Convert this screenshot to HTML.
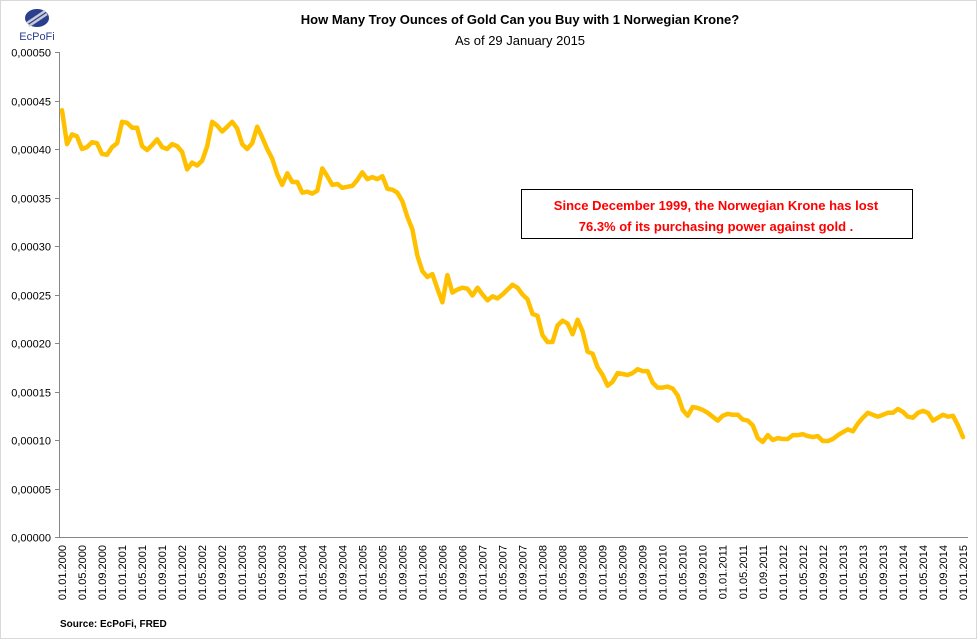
<!DOCTYPE html>
<html><head><meta charset="utf-8"><style>
body{margin:0;background:#fff;}
svg{display:block;font-family:"Liberation Sans",sans-serif;}
</style></head><body>
<svg id="chart" width="977" height="639">
<rect x="0.5" y="0.5" width="976" height="638" fill="#fff" stroke="#d9d9d9"/>
<g>
<ellipse cx="37" cy="18" rx="12" ry="9" fill="#2b3f8f"/>
<path d="M27 23 L45 11 M29 26 L47 14" stroke="#c7ccd6" stroke-width="2.5"/>
<text x="37" y="40" font-size="11" fill="#2b3f8f" text-anchor="middle">EcPoFi</text>
</g>
<text x="520" y="24" font-size="13" font-weight="bold" text-anchor="middle" fill="#000">How Many Troy Ounces of Gold Can you Buy with 1 Norwegian Krone?</text>
<text x="520" y="45" font-size="13" text-anchor="middle" fill="#000">As of 29 January 2015</text>
<g id="yaxis"></g>
<g id="xaxis"></g>
<g id="series"></g>
<g>
<rect x="521.5" y="189.5" width="391" height="49" fill="#fff" stroke="#000"/>
<text x="716" y="210" font-size="13" font-weight="bold" fill="#ff0000" text-anchor="middle">Since December 1999, the Norwegian Krone has lost</text>
<text x="716" y="231" font-size="13" font-weight="bold" fill="#ff0000" text-anchor="middle">76.3% of its purchasing power against gold .</text>
</g>
<text x="60" y="627" font-size="10" font-weight="bold" fill="#000">Source: EcPoFi,  FRED</text>
</svg>
<script>
const yTicks=[0,0.00005,0.0001,0.00015,0.0002,0.00025,0.0003,0.00035,0.0004,0.00045,0.0005];
const yTickLabels=["0,00000","0,00005","0,00010","0,00015","0,00020","0,00025","0,00030","0,00035","0,00040","0,00045","0,00050"];
const startYear=2000;
const monthsCount=181;
const values=[
44,40.5,41.5,41.3,40,40.2,40.7,40.6,39.5,39.4,40.2,40.6,
42.8,42.7,42.2,42.2,40.3,39.9,40.4,41,40.2,40,40.5,40.3,
39.7,37.9,38.6,38.3,38.8,40.3,42.8,42.4,41.8,42.3,42.8,42.1,
40.5,40,40.6,42.3,41.2,40,39,37.4,36.3,37.5,36.6,36.6,
35.5,35.6,35.4,35.7,38,37.2,36.3,36.4,36,36.1,36.2,36.8,
37.6,36.9,37.1,36.9,37.2,35.9,35.8,35.5,34.6,33,31.7,29,
27.4,26.8,27.1,25.6,24.2,27,25.2,25.5,25.7,25.6,24.9,25.7,
25,24.4,24.8,24.6,25,25.5,26,25.7,25,24.5,23,22.8,
20.8,20.1,20.1,21.8,22.3,22,20.9,22.4,21.2,19.1,18.9,17.5,
16.7,15.6,16,16.9,16.8,16.7,16.9,17.3,17.1,17.1,15.9,15.4,
15.4,15.5,15.3,14.6,13.1,12.5,13.4,13.3,13.1,12.8,12.4,12,
12.5,12.7,12.6,12.6,12.1,12,11.5,10.2,9.8,10.5,10,10.2,
10.1,10.1,10.5,10.5,10.6,10.4,10.3,10.4,9.9,9.9,10.1,10.5,
10.8,11.1,10.9,11.7,12.3,12.8,12.6,12.4,12.6,12.8,12.8,13.2,
12.9,12.4,12.3,12.8,13,12.8,12,12.3,12.6,12.4,12.5,11.5,
10.3];
const NS="http://www.w3.org/2000/svg";
const X0=62,X1=963,Y0=537,Y1=52;
function xScale(i){return X0+(X1-X0)*i/(monthsCount-1);}
function yScale(v){return Y0-(Y0-Y1)*v/0.0005;}
function mk(t,a,p){const e=document.createElementNS(NS,t);for(const k in a)e.setAttribute(k,a[k]);p.appendChild(e);return e;}
const ya=document.getElementById('yaxis');
const axl=mk('line',{x1:59.5,y1:yScale(0.0005),x2:59.5,y2:Y0,stroke:'#868686'},ya);


yTicks.forEach((v,k)=>{const y=Math.round(yScale(v))+0.5;
 const t=mk('line',{x1:55,y1:y,x2:59,y2:y,stroke:'#868686'},ya);
 
 
 const l=mk('text',{x:51,y:y+4,'font-size':11,'text-anchor':'end',fill:'#000'},ya);l.textContent=yTickLabels[k];
 
 
});
const xa=document.getElementById('xaxis');
const xl=mk('line',{x1:59,y1:Y0+0.5,x2:968,y2:Y0+0.5,stroke:'#868686'},xa);


for(let i=0;i<monthsCount;i+=4){
 const m=i%12+1,yr=startYear+Math.floor(i/12);
 const lab='01.'+(m<10?'0'+m:m)+'.'+yr;
 const x=xScale(i);
 const t=mk('text',{x:0,y:0,'font-size':11,'text-anchor':'end',fill:'#000',transform:`translate(${x+4},545) rotate(-90)`},xa);
 t.textContent=lab;
 
 
}
const s=document.getElementById('series');
const pts=values.map((v,i)=>xScale(i).toFixed(1)+','+yScale(v*1e-5).toFixed(1)).join(' ');
const pl=mk('polyline',{points:pts,fill:'none',stroke:'#ffc000','stroke-width':4.5,'stroke-linejoin':'round','stroke-linecap':'round'},s);


</script>
</body></html>
